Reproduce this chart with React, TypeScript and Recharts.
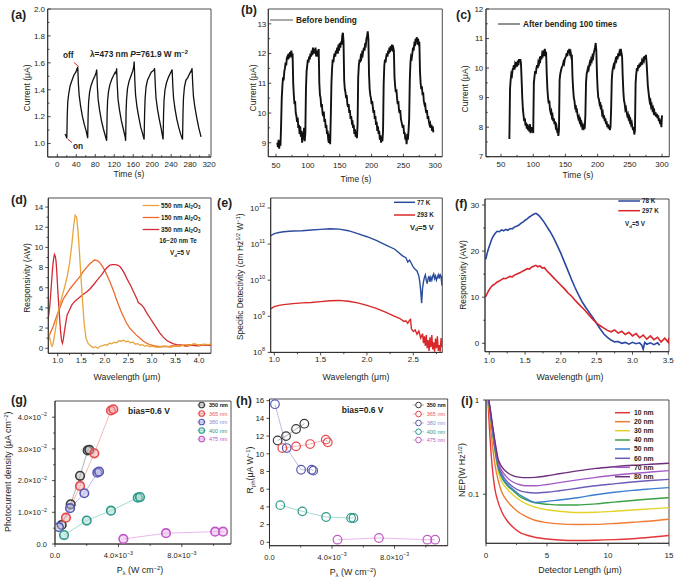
import React from 'react';
import { LineChart, Line, XAxis, YAxis, ReferenceArea } from 'recharts';

const FONT = '"Liberation Sans", Arial, Helvetica, sans-serif';
const INK = '#231f20';

/* ---------------- (a) ---------------- */
const timeA = [16,18,20,21,22,24,27,31,35,39,41,42,43,44.5,46,49,53,57,61,64,
  65,66,68,71,75,79,82,83,84.5,86,89,93,97,101,104,
  105,106,108,111,115,119,122,124,125,126.5,128,131,135,139,143,144,
  145,146,148,151,155,159,161,162,163.5,165,168,172,176,180,183,
  184,185,187,190,194,198,202,204,205,206.5,208,211,215,219,221,223,
  224,225,227,230,234,238,241,242,243.5,245,248,252,256,260,264,
  265,266,268,271,275,279,282,283,284,285.5,287,290,294,298,303];
const currentA = [1.07,1.06,1.04,1.22,1.31,1.37,1.43,1.47,1.51,1.53,1.55,1.54,1.57,1.44,1.36,1.28,1.2,1.14,1.09,1.04,
  1.22,1.31,1.38,1.43,1.47,1.5,1.53,1.55,1.42,1.33,1.25,1.17,1.11,1.06,1.02,
  1.22,1.32,1.39,1.44,1.48,1.51,1.53,1.52,1.56,1.43,1.33,1.25,1.17,1.11,1.05,1.02,
  1.24,1.33,1.41,1.46,1.5,1.54,1.57,1.61,1.46,1.36,1.27,1.19,1.12,1.07,1.03,
  1.22,1.33,1.42,1.47,1.5,1.53,1.54,1.55,1.56,1.44,1.34,1.26,1.18,1.11,1.07,1.03,
  1.22,1.32,1.4,1.45,1.49,1.52,1.54,1.55,1.43,1.34,1.26,1.18,1.12,1.07,1.03,
  1.23,1.34,1.42,1.47,1.49,1.52,1.54,1.53,1.56,1.44,1.35,1.27,1.19,1.12,1.05];
const aXTicks = [0, 40, 80, 120, 160, 200, 240, 280, 320];
const aXMinor = [20, 60, 100, 140, 180, 220, 260, 300];
const aYTicks = [1.0, 1.2, 1.4, 1.6, 1.8, 2.0];
const aYMinor = [1.1, 1.3, 1.5, 1.7, 1.9];

/* ---------------- (b) ---------------- */
const bStartTime = 52;
const currentB = [9.0,8.85,9.1,8.8,9.05,8.9,
  9.6,10.5,10.9,11.2,11.1,11.4,11.5,11.7,11.6,11.85,11.9,11.8,12.0,11.85,12.05,11.9,12.1,11.95,12.0,
  11.0,10.6,10.3,10.4,10.0,9.9,9.7,9.85,9.5,9.6,9.3,9.55,9.2,9.4,9.0,9.35,9.1,9.5,9.05,9.3,
  10.8,11.4,11.6,11.8,11.7,11.9,11.8,12.0,11.9,12.1,11.95,12.2,12.0,12.15,12.0,12.2,11.9,12.1,11.9,12.0,12.15,
  11.0,10.6,10.5,10.2,10.3,10.0,9.9,10.05,9.7,9.8,9.5,9.6,9.3,9.4,9.1,9.0,9.3,8.95,9.9,
  11.0,11.5,11.8,11.7,11.9,12.0,11.9,12.1,12.0,12.2,12.0,12.3,12.1,12.35,12.2,12.4,12.3,12.6,12.7,12.4,
  11.1,10.8,10.7,10.5,10.6,10.3,10.2,10.3,10.0,10.1,9.8,9.9,9.7,9.75,9.5,9.6,9.3,9.45,9.2,9.35,9.15,9.6,
  11.2,11.6,11.8,11.7,11.9,11.85,12.0,11.95,12.1,12.2,12.1,12.35,12.3,12.5,12.6,12.75,12.5,
  11.3,10.8,10.6,10.5,10.3,10.4,10.2,10.0,10.1,9.8,9.9,9.6,9.7,9.4,9.55,9.3,9.4,9.1,9.25,9.0,9.2,9.05,9.4,
  11.0,11.6,11.8,11.7,11.9,12.0,11.9,12.1,12.0,12.2,12.05,12.25,12.1,12.3,12.15,12.2,12.1,
  11.2,10.9,10.7,10.8,10.5,10.3,10.4,10.1,10.0,10.1,9.8,9.7,9.6,9.5,9.6,9.3,9.35,9.1,9.2,8.95,9.3,9.1,9.4,9.8,
  11.1,11.7,11.9,11.85,12.0,12.2,12.1,12.3,12.25,12.5,12.4,12.55,12.3,12.5,12.35,12.4,
  11.4,11.0,10.8,10.9,10.6,10.7,10.4,10.3,10.35,10.1,10.0,10.1,9.8,9.9,9.7,9.6,9.65,9.5,9.6,9.4,9.55,9.35];
const bXTicks = [50, 100, 150, 200, 250, 300];
const bXMinor = [75, 125, 175, 225, 275];
const bYTicks = [9, 10, 11, 12, 13];
const bYMinor = [9.5, 10.5, 11.5, 12.5];

/* ---------------- (c) ---------------- */
const cStartTime = 63;
const currentC = [7.6,9.3,9.6,9.8,9.75,9.95,10.0,10.1,9.95,10.15,10.1,10.2,10.05,10.25,10.1,10.3,10.2,10.3,10.15,
  9.6,9.0,8.6,8.4,8.2,8.3,8.05,8.15,7.95,8.1,7.9,8.05,7.85,8.1,7.8,8.0,7.85,7.95,7.8,
  9.5,9.7,9.9,9.8,10.0,10.1,10.0,10.2,10.15,10.3,10.25,10.4,10.3,10.5,10.45,10.6,10.4,10.65,10.5,10.55,
  9.8,9.3,9.0,8.8,8.9,8.6,8.5,8.55,8.35,8.4,8.2,8.3,8.1,8.2,8.0,8.05,7.9,7.95,7.7,7.9,
  9.6,9.8,9.9,10.0,10.05,10.1,10.2,10.15,10.3,10.35,10.4,10.5,10.4,10.6,10.5,10.65,10.5,10.55,10.4,10.45,
  9.7,9.3,9.0,8.9,8.7,8.75,8.5,8.55,8.4,8.3,8.35,8.2,8.25,8.1,8.15,8.0,8.05,7.9,8.0,7.95,8.4,
  9.5,9.8,9.9,10.0,9.95,10.1,10.2,10.15,10.3,10.25,10.4,10.35,10.5,10.6,10.7,10.85,10.6,
  9.8,9.3,9.0,8.95,8.8,8.85,8.6,8.65,8.45,8.5,8.3,8.4,8.2,8.3,8.1,8.2,8.0,8.1,7.95,8.05,7.9,8.0,8.6,
  9.6,9.9,10.0,10.1,10.05,10.2,10.3,10.25,10.4,10.3,10.5,10.4,10.55,10.5,10.65,10.5,10.4,
  9.7,9.2,8.9,8.8,8.6,8.65,8.5,8.4,8.45,8.3,8.35,8.2,8.25,8.1,8.15,8.0,7.9,8.0,7.75,7.9,
  9.5,9.8,10.0,9.9,10.1,10.0,10.15,10.05,10.2,10.1,10.25,10.2,10.3,10.25,10.4,10.3,10.45,10.2,
  9.8,9.4,9.2,9.0,8.85,8.9,8.7,8.75,8.6,8.65,8.5,8.55,8.4,8.5,8.35,8.45,8.3,8.4,8.2,8.3,8.1,8.25,8.0,8.4];
const cYTicks = [7, 8, 9, 10, 11, 12];
const cYMinor = [7.5, 8.5, 9.5, 10.5, 11.5];

/* ---------------- (d) ---------------- */
const d550X = [0.8,0.83,0.86,0.88,0.9,0.95,1.0,1.05,1.1,1.15,1.2,1.25,1.3,1.34,1.37,1.4,1.43,1.46,1.5,1.53,1.56,1.6,1.65,1.7,1.75,1.8,1.85,1.9,1.95,2.0,2.05,2.1,2.15,2.2,2.25,2.3,2.35,2.4,2.45,2.5,2.55,2.6,2.65,2.7,2.75,2.8,2.85,2.9,2.95,3.0,3.1,3.2,3.3,3.4,3.5,3.6,3.7,3.8,3.9,4.0,4.1,4.2,4.25];
const d550Y = [1.6,1.0,0.4,0.2,0.4,1.8,3.3,4.4,5.3,6.1,7.1,8.4,10.3,12.2,13.2,13.0,11.7,9.6,6.6,4.5,2.5,1.0,0.45,0.25,0.05,0.15,0.0,0.2,0.25,0.35,0.3,0.5,0.45,0.6,0.55,0.75,0.7,0.8,0.65,0.7,0.55,0.6,0.4,0.45,0.3,0.35,0.2,0.3,0.15,0.2,0.1,0.15,0.2,0.1,0.25,0.2,0.35,0.3,0.45,0.3,0.4,0.35,0.45];
const d150X = [0.8,0.85,0.9,0.95,1.0,1.06,1.12,1.19,1.26,1.33,1.4,1.47,1.54,1.61,1.69,1.74,1.78,1.82,1.86,1.9,1.94,1.99,2.04,2.1,2.15,2.2,2.25,2.3,2.36,2.41,2.46,2.53,2.6,2.67,2.75,2.82,2.89,2.96,3.03,3.1,3.17,3.25,3.35,3.45,3.55,3.65,3.75,3.85,3.95,4.05,4.15,4.25];
const d150Y = [1.0,1.6,2.1,2.8,3.5,4.2,4.9,5.4,5.9,6.3,6.7,7.1,7.6,8.0,8.4,8.6,8.75,8.72,8.65,8.45,8.2,7.8,7.3,6.7,6.1,5.5,4.8,4.2,3.5,3.0,2.5,2.0,1.65,1.3,1.0,0.7,0.5,0.35,0.25,0.2,0.15,0.2,0.15,0.25,0.2,0.3,0.2,0.3,0.25,0.35,0.3,0.35];
const d350X = [0.8,0.83,0.85,0.87,0.89,0.91,0.93,0.95,0.965,0.98,1.0,1.02,1.04,1.06,1.08,1.1,1.12,1.14,1.17,1.2,1.25,1.3,1.37,1.44,1.53,1.62,1.69,1.76,1.83,1.9,1.95,2.0,2.05,2.11,2.16,2.22,2.27,2.32,2.37,2.43,2.48,2.54,2.59,2.64,2.68,2.71,2.75,2.78,2.83,2.89,2.96,3.03,3.1,3.17,3.24,3.31,3.38,3.46,3.53,3.6,3.7,3.8,3.9,4.0,4.1,4.2,4.25];
const d350Y = [3.0,4.1,5.3,6.6,7.9,8.8,9.3,9.1,8.6,7.6,5.9,4.4,3.0,1.7,0.8,0.5,0.9,1.6,2.5,3.3,3.8,4.3,4.7,4.95,5.3,5.6,5.9,6.3,6.7,7.1,7.4,7.75,8.0,8.25,8.3,8.3,8.25,8.1,7.8,7.3,6.8,6.3,5.8,5.3,4.9,4.55,4.4,4.3,4.0,3.5,3.0,2.5,2.0,1.5,1.1,0.8,0.6,0.43,0.35,0.33,0.25,0.35,0.3,0.25,0.35,0.3,0.3];
const dXTicks = [1.0, 1.5, 2.0, 2.5, 3.0, 3.5, 4.0];
const dXMinor = [1.25, 1.75, 2.25, 2.75, 3.25, 3.75];
const dYTicks = [0, 2, 4, 6, 8, 10, 12, 14];
const dYMinor = [1, 3, 5, 7, 9, 11, 13];

/* ---------------- (e) ---------------- */
const eBlueX = [0.96,1.0,1.05,1.1,1.2,1.3,1.4,1.5,1.6,1.7,1.8,1.9,2.0,2.1,2.2,2.3,2.38,2.42,2.44,2.46,2.48,2.5,2.52,2.54,2.56,2.57,2.58,2.59,2.6,2.61,2.62,2.63,2.64,2.65,2.66,2.67,2.68,2.69,2.7,2.71,2.72,2.73,2.74,2.75,2.76,2.77,2.78,2.79,2.8,2.81,2.813];
const eBlueY = [1.7e11,1.95e11,2.1e11,2.2e11,2.3e11,2.35e11,2.45e11,2.55e11,2.65e11,2.6e11,2.35e11,1.95e11,1.6e11,1.27e11,9.5e10,7.2e10,4.8e10,4.2e10,3.2e10,3.6e10,2.9e10,2.3e10,2.0e10,1.8e10,1.3e10,9e9,5e9,2.3e9,6e9,9e9,1.2e10,1.4e10,1.0e10,8e9,1.1e10,1.3e10,9e9,1.2e10,1.0e10,1.3e10,1.5e10,1.1e10,1.3e10,1.0e10,1.2e10,1.4e10,1.1e10,1.5e10,1.2e10,7e9,1.3e10];
const eRedX = [0.96,1.0,1.05,1.1,1.2,1.3,1.4,1.5,1.6,1.7,1.8,1.9,2.0,2.1,2.2,2.3,2.35,2.4,2.42,2.44,2.46,2.47,2.48,2.5,2.52,2.54,2.56,2.58,2.6,2.61,2.62,2.63,2.64,2.65,2.66,2.67,2.68,2.69,2.7,2.71,2.72,2.73,2.74,2.75,2.76,2.77,2.78,2.79,2.8,2.81,2.813];
const eRedY = [1.6e9,1.85e9,2.0e9,2.1e9,2.25e9,2.35e9,2.4e9,2.55e9,2.7e9,2.75e9,2.6e9,2.35e9,2.0e9,1.65e9,1.3e9,1.0e9,8.8e8,7.2e8,7.5e8,6.4e8,7.8e8,8.2e8,4.5e8,3.8e8,4.2e8,3.2e8,3.9e8,2.5e8,3.3e8,1.8e8,2.8e8,1.5e8,3.0e8,1.3e8,2.2e8,1.1e8,2.6e8,1.4e8,3.0e8,1.2e8,1.9e8,1.05e8,2.4e8,1.3e8,2.8e8,1.1e8,1.6e8,1.05e8,2.5e8,1.4e8,2.2e8];
const eXTicks = [1.0, 1.5, 2.0, 2.5];
const eXMinor = [1.25, 1.75, 2.25, 2.75];
const eYTicks = [1e8, 1e9, 1e10, 1e11, 1e12];

/* ---------------- (f) ---------------- */
const fBlueX = [0.95,0.97,0.99,1.01,1.03,1.05,1.08,1.11,1.14,1.17,1.2,1.23,1.26,1.29,1.32,1.35,1.38,1.41,1.44,1.47,1.5,1.53,1.56,1.59,1.62,1.65,1.67,1.7,1.73,1.76,1.8,1.85,1.9,1.95,2.0,2.05,2.1,2.15,2.2,2.25,2.3,2.35,2.4,2.45,2.5,2.55,2.6,2.65,2.7,2.75,2.8,2.85,2.9,2.95,3.0,3.05,3.1,3.13,3.15,3.17,3.2,3.25,3.3,3.35,3.38];
const fBlueY = [18.2,19.5,20.6,21.5,22.4,23.1,23.8,24.3,24.2,24.6,24.4,24.7,24.5,24.9,24.8,25.2,25.4,25.6,26.0,26.3,26.7,27.0,27.4,27.7,28.0,28.2,28.0,27.6,27.0,26.4,25.4,24.2,22.8,21.2,19.5,17.6,15.7,13.8,12.0,10.4,8.9,7.7,6.6,5.5,4.3,3.1,2.0,1.3,0.7,0.3,0.4,0.0,0.2,-0.2,0.2,-0.1,0.1,-0.4,-1.3,0.2,-0.2,0.1,-0.3,0.1,-0.4];
const fRedX = [0.95,0.97,0.99,1.01,1.03,1.05,1.08,1.11,1.14,1.17,1.2,1.23,1.26,1.29,1.32,1.35,1.38,1.41,1.44,1.47,1.5,1.53,1.56,1.59,1.62,1.65,1.68,1.71,1.74,1.77,1.8,1.85,1.9,1.95,2.0,2.05,2.1,2.15,2.2,2.25,2.3,2.35,2.4,2.45,2.5,2.55,2.6,2.65,2.7,2.75,2.8,2.85,2.9,2.95,3.0,3.05,3.1,3.15,3.2,3.25,3.3,3.35,3.4,3.45,3.5,3.51];
const fRedY = [10.1,10.8,11.4,11.9,12.3,12.6,12.9,13.3,13.5,13.8,14.1,14.0,14.3,14.5,14.4,14.8,15.0,15.2,15.4,15.7,15.9,16.2,16.1,16.5,16.7,16.9,16.6,16.8,16.3,16.4,15.8,15.0,14.2,13.4,12.6,11.8,10.9,10.2,9.3,8.5,7.7,6.9,6.0,5.1,4.4,3.8,3.3,2.8,2.5,2.9,2.2,2.6,1.9,2.4,1.6,2.1,1.2,1.8,0.9,1.6,0.8,1.3,0.3,1.1,0.2,1.2];
const fXTicks = [1.0, 1.5, 2.0, 2.5, 3.0, 3.5];
const fXMinor = [1.25, 1.75, 2.25, 2.75, 3.25];
const fYTicks = [0, 10, 20, 30];
const fYMinor = [5, 15, 25];

/* ---------------- (g) ---------------- */
const gNames = ['350 nm', '365 nm', '380 nm', '400 nm', '475 nm'];
const g350X = [0.00042, 0.00099, 0.00158, 0.00206, 0.00217];
const g350Y = [0.0060, 0.0125, 0.0215, 0.0295, 0.0297];
const g365X = [0.00069, 0.00158, 0.00248, 0.00353, 0.00368];
const g365Y = [0.0083, 0.0183, 0.0286, 0.0421, 0.0425];
const g380X = [0.00025, 0.00095, 0.00185, 0.00267, 0.00278];
const g380Y = [0.0053, 0.0113, 0.0160, 0.0225, 0.0228];
const g400X = [0.00057, 0.0020, 0.00353, 0.00522, 0.00536];
const g400Y = [0.0028, 0.0074, 0.0105, 0.0146, 0.0148];
const g475X = [0.00431, 0.0070, 0.0101, 0.0106];
const g475Y = [0.0016, 0.0034, 0.0039, 0.0039];
const gXTicks = [0, 0.004, 0.008];
const gXMinor = [0.002, 0.006, 0.010];
const gXMant = ['0.0', '4.0', '8.0'];
const gXExp = [null, '−3', '−3'];
const gYTicks = [0, 0.01, 0.02, 0.03, 0.04];
const gYMinor = [0.005, 0.015, 0.025, 0.035];
const gYMant = ['0.0', '1.0', '2.0', '3.0', '4.0'];
const gYExp = [null, '−2', '−2', '−2', '−2'];

/* ---------------- (h) ---------------- */
const h350X = [0.00052, 0.00106, 0.0017, 0.00223];
const h350Y = [11.5, 12.0, 12.8, 13.4];
const h365X = [0.00082, 0.0017, 0.0026, 0.0036, 0.00373];
const h365Y = [10.65, 10.84, 11.1, 11.6, 11.3];
const h380X = [0.00035, 0.0011, 0.00202, 0.0027, 0.0028];
const h380Y = [15.6, 10.65, 8.2, 8.2, 8.1];
const h400X = [0.00069, 0.0021, 0.00362, 0.00522, 0.00537];
const h400Y = [4.2, 3.5, 2.86, 2.75, 2.75];
const h475X = [0.00435, 0.0070, 0.0101, 0.0106];
const h475Y = [0.3, 0.49, 0.3, 0.3];
const hYTicks = [0, 2, 4, 6, 8, 10, 12, 14, 16];

/* ---------------- (i) ---------------- */
const iNames = ['10 nm', '20 nm', '30 nm', '40 nm', '50 nm', '60 nm', '70 nm', '80 nm'];
const iLength = [0.15,0.25,0.35,0.5,0.7,1.0,1.3,1.7,2.2,2.7,3.3,4,5,6,7.5,9,10.5,12,13.5,15];
const i10 = [1.05,0.6,0.36,0.2,0.12,0.082,0.065,0.053,0.045,0.040,0.037,0.035,0.0335,0.0327,0.0323,0.0325,0.033,0.0338,0.035,0.0365];
const i20 = [1.1,0.8,0.55,0.36,0.22,0.14,0.105,0.086,0.073,0.064,0.058,0.053,0.050,0.0485,0.0478,0.048,0.049,0.0505,0.052,0.0543];
const i30 = [1.15,0.9,0.68,0.47,0.3,0.175,0.135,0.115,0.099,0.088,0.079,0.073,0.0685,0.066,0.064,0.0645,0.066,0.068,0.070,0.0722];
const i40 = [1.15,0.92,0.72,0.5,0.32,0.19,0.15,0.125,0.11,0.096,0.087,0.081,0.0785,0.077,0.077,0.079,0.0825,0.086,0.089,0.0922];
const i50 = [1.15,0.93,0.74,0.52,0.33,0.2,0.155,0.13,0.113,0.1,0.09,0.082,0.084,0.087,0.092,0.099,0.105,0.11,0.114,0.1178];
const i60 = [1.15,0.94,0.76,0.54,0.35,0.21,0.165,0.138,0.12,0.11,0.105,0.103,0.105,0.109,0.116,0.123,0.129,0.135,0.14,0.144];
const i70 = [1.15,0.95,0.78,0.56,0.37,0.22,0.178,0.152,0.135,0.127,0.123,0.123,0.127,0.133,0.142,0.151,0.159,0.166,0.172,0.178];
const i80 = [1.15,0.96,0.8,0.58,0.39,0.235,0.195,0.172,0.158,0.152,0.15,0.151,0.157,0.165,0.177,0.188,0.196,0.203,0.208,0.213];
const iXTicks = [0, 5, 10, 15];
const iXMinor = [2.5, 7.5, 12.5];
const iYTicks = [0.1, 1];

/* ---------------- styles ---------------- */
const gDot = ['#3a3a3a', '#e8474b', '#5a5ab4', '#2e9a8a', '#c159c6'];
const gFill = ['#b8b8b8', '#f4a9a9', '#b4b4e2', '#a6d8d0', '#e8b4ea'];
const gLine = ['#9a9a9a', '#f3a3a3', '#a9a9e0', '#8fcfc4', '#e3a5e6'];
const gText = ['#111111', '#ee5a5a', '#8d8dd6', '#2e9a8a', '#c159c6'];
const iColors = ['#e5343a', '#f07b32', '#e2d22a', '#3da043', '#3c7fd0', '#6a5cb8', '#a35cc4', '#6e2e7e'];

const axLine = { stroke: INK, strokeWidth: 0.8 };

function zip(xs: number[], ys: number[]) {
  const n = Math.min(xs.length, ys.length);
  const out: { x: number; y: number }[] = [];
  for (let i = 0; i < n; i++) out.push({ x: xs[i], y: ys[i] });
  return out;
}

function place(box: any, yw: number, xh: number, mt = 6, mr = 9) {
  return {
    left: box.L - yw,
    top: box.T - mt,
    width: box.R - box.L + yw + mr,
    height: box.B - box.T + mt + xh,
    margin: { top: mt, right: mr, left: 0, bottom: 0 },
  };
}

const near = (a: number, b: number) => Math.abs(a - b) <= Math.max(1e-12, Math.abs(b) * 1e-6);

/* custom tick: draws its own tick mark (major / minor, inside / outside) and the label */
function makeTick(cfg: {
  side: 'x' | 'y'; majors: number[]; inside?: boolean; len?: number; gap: number; fs?: number;
  fmt?: (v: number, i: number) => any;
}) {
  const len = cfg.len ?? 3;
  const fs = cfg.fs ?? 8;
  const dir = cfg.inside ? -1 : 1;
  return (props: any) => {
    const { x, y, payload } = props;
    const v = payload.value;
    const i = cfg.majors.findIndex((m) => near(v, m));
    const major = i >= 0;
    const l = major ? len : len * 0.6;
    const label = major ? (cfg.fmt ? cfg.fmt(v, i) : String(v)) : null;
    if (cfg.side === 'y') {
      return (
        <g>
          <line x1={x} y1={y} x2={x - dir * l} y2={y} stroke={INK} strokeWidth={0.8} />
          {major ? (
            <text x={x - cfg.gap} y={y} dy={fs * 0.35} textAnchor="end" fontSize={fs} fontFamily={FONT} fill={INK}>{label}</text>
          ) : null}
        </g>
      );
    }
    return (
      <g>
        <line x1={x} y1={y} x2={x} y2={y + dir * l} stroke={INK} strokeWidth={0.8} />
        {major ? (
          <text x={x} y={y + cfg.gap} dy={fs * 0.72} textAnchor="middle" fontSize={fs} fontFamily={FONT} fill={INK}>{label}</text>
        ) : null}
      </g>
    );
  };
}

const fix1 = (v: number) => v.toFixed(1);
const pow10 = (v: number) => [
  '10', <tspan key="e" dy={-4} fontSize={5.5}>{Math.round(Math.log10(v))}</tspan>,
];
const sci = (mants: string[], exps: (string | null)[]) => (_v: number, i: number) =>
  exps[i]
    ? [mants[i] + '×10', <tspan key="e" dy={-3.4} fontSize={5.3}>{exps[i]}</tspan>]
    : mants[i];

const axisCommon = { interval: 0 as const, allowDataOverflow: true, tickSize: 0, tickMargin: 0, tickLine: false, axisLine: axLine };

/* ---------------- panels ---------------- */
function PanelA() {
  const box = { L: 47.7, T: 9, R: 211, B: 157 };
  const p = place(box, 47.7, 22);
  const data = zip(timeA, currentA);
  const xd = [-20.3, 324];
  const yd = [0.9, 2.0];
  return (
    <div style={{ position: 'absolute', left: p.left, top: p.top }}>
      <LineChart width={p.width} height={p.height} margin={p.margin} data={data}>
        <XAxis {...axisCommon} type="number" dataKey="x" domain={xd} ticks={[...aXTicks, ...aXMinor]} height={22}
          tick={makeTick({ side: 'x', majors: aXTicks, inside: true, gap: 4 })} />
        <YAxis {...axisCommon} type="number" domain={yd} ticks={[...aYTicks, ...aYMinor]} width={47.7}
          tick={makeTick({ side: 'y', majors: aYTicks, inside: true, gap: 2.7, fmt: fix1 })} />
        <ReferenceArea x1={xd[0]} x2={xd[1]} y1={yd[0]} y2={yd[1]} fill="none" stroke={INK} strokeWidth={0.8} ifOverflow="visible" />
        <Line type="linear" dataKey="y" stroke="#111" strokeWidth={1.3} dot={false} isAnimationActive={false} />
      </LineChart>
    </div>
  );
}

function PanelB() {
  const box = { L: 268.3, T: 9, R: 442.3, B: 156.7 };
  const p = place(box, 43.3, 22);
  const data = currentB.map((v, i) => ({ x: bStartTime + i, y: v }));
  const xd = [37.9, 311];
  const yd = [8.53, 13.5];
  return (
    <div style={{ position: 'absolute', left: p.left, top: p.top }}>
      <LineChart width={p.width} height={p.height} margin={p.margin} data={data}>
        <XAxis {...axisCommon} type="number" dataKey="x" domain={xd} ticks={[...bXTicks, ...bXMinor]} height={22}
          tick={makeTick({ side: 'x', majors: bXTicks, inside: true, gap: 6 })} />
        <YAxis {...axisCommon} type="number" domain={yd} ticks={[...bYTicks, ...bYMinor]} width={43.3}
          tick={makeTick({ side: 'y', majors: bYTicks, inside: true, gap: 2 })} />
        <ReferenceArea x1={xd[0]} x2={xd[1]} y1={yd[0]} y2={yd[1]} fill="none" stroke={INK} strokeWidth={0.8} ifOverflow="visible" />
        <Line type="linear" dataKey="y" stroke="#111" strokeWidth={1.9} dot={false} isAnimationActive={false} />
      </LineChart>
    </div>
  );
}

function PanelC() {
  const box = { L: 486, T: 9, R: 669.3, B: 156.7 };
  const p = place(box, 36, 22, 6, 6);
  const data = currentC.map((v, i) => ({ x: cStartTime + i, y: v }));
  const xd = [26.7, 311.3];
  const yd = [7, 12];
  return (
    <div style={{ position: 'absolute', left: p.left, top: p.top }}>
      <LineChart width={p.width} height={p.height} margin={p.margin} data={data}>
        <XAxis {...axisCommon} type="number" dataKey="x" domain={xd} ticks={[...bXTicks, ...bXMinor]} height={22}
          tick={makeTick({ side: 'x', majors: bXTicks, inside: true, gap: 4.5 })} />
        <YAxis {...axisCommon} type="number" domain={yd} ticks={[...cYTicks, ...cYMinor]} width={36}
          tick={makeTick({ side: 'y', majors: cYTicks, inside: true, gap: 2.7 })} />
        <ReferenceArea x1={xd[0]} x2={xd[1]} y1={yd[0]} y2={yd[1]} fill="none" stroke={INK} strokeWidth={0.8} ifOverflow="visible" />
        <Line type="linear" dataKey="y" stroke="#111" strokeWidth={1.9} dot={false} isAnimationActive={false} />
      </LineChart>
    </div>
  );
}

function PanelD() {
  const box = { L: 48.3, T: 198, R: 211, B: 353.3 };
  const p = place(box, 48.3, 20);
  const xd = [0.8, 4.255];
  const yd = [-0.5, 14.9];
  return (
    <div style={{ position: 'absolute', left: p.left, top: p.top }}>
      <LineChart width={p.width} height={p.height} margin={p.margin}>
        <XAxis {...axisCommon} type="number" dataKey="x" domain={xd} ticks={[...dXTicks, ...dXMinor]} height={20}
          tick={makeTick({ side: 'x', majors: dXTicks, gap: 3.5, fmt: fix1 })} />
        <YAxis {...axisCommon} type="number" domain={yd} ticks={[...dYTicks, ...dYMinor]} width={48.3}
          tick={makeTick({ side: 'y', majors: dYTicks, gap: 5 })} />
        <ReferenceArea x1={xd[0]} x2={xd[1]} y1={yd[0]} y2={yd[1]} fill="none" stroke={INK} strokeWidth={0.8} ifOverflow="visible" />
        <Line data={zip(d150X, d150Y)} type="linear" dataKey="y" stroke="#ee6a2c" strokeWidth={1.3} dot={false} isAnimationActive={false} />
        <Line data={zip(d350X, d350Y)} type="linear" dataKey="y" stroke="#d42a33" strokeWidth={1.3} dot={false} isAnimationActive={false} />
        <Line data={zip(d550X, d550Y)} type="linear" dataKey="y" stroke="#e8a43a" strokeWidth={1.3} dot={false} isAnimationActive={false} />
      </LineChart>
    </div>
  );
}

function PanelE() {
  const box = { L: 270.7, T: 198.3, R: 442.3, B: 352.7 };
  const p = place(box, 45.7, 20);
  const xd = [0.961, 2.813];
  const yd = [1e8, 1.89e12];
  return (
    <div style={{ position: 'absolute', left: p.left, top: p.top }}>
      <LineChart width={p.width} height={p.height} margin={p.margin}>
        <XAxis {...axisCommon} type="number" dataKey="x" domain={xd} ticks={[...eXTicks, ...eXMinor]} height={20}
          tick={makeTick({ side: 'x', majors: eXTicks, gap: 3.5, fmt: fix1 })} />
        <YAxis {...axisCommon} type="number" scale="log" domain={yd} ticks={eYTicks} width={45.7}
          tick={makeTick({ side: 'y', majors: eYTicks, gap: 5.7, fmt: pow10 })} />
        <ReferenceArea x1={xd[0]} x2={xd[1]} y1={yd[0]} y2={yd[1]} fill="none" stroke={INK} strokeWidth={0.8} ifOverflow="visible" />
        <Line data={zip(eBlueX, eBlueY)} type="linear" dataKey="y" stroke="#2a4b9c" strokeWidth={1.4} dot={false} isAnimationActive={false} />
        <Line data={zip(eRedX, eRedY)} type="linear" dataKey="y" stroke="#d8282a" strokeWidth={1.4} dot={false} isAnimationActive={false} />
      </LineChart>
    </div>
  );
}

function PanelF() {
  const box = { L: 485, T: 199, R: 669, B: 351.7 };
  const p = place(box, 35, 20, 6, 6);
  const xd = [0.94, 3.51];
  const yd = [-1.82, 31.3];
  return (
    <div style={{ position: 'absolute', left: p.left, top: p.top }}>
      <LineChart width={p.width} height={p.height} margin={p.margin}>
        <XAxis {...axisCommon} type="number" dataKey="x" domain={xd} ticks={[...fXTicks, ...fXMinor]} height={20}
          tick={makeTick({ side: 'x', majors: fXTicks, gap: 5.3, fmt: fix1 })} />
        <YAxis {...axisCommon} type="number" domain={yd} ticks={[...fYTicks, ...fYMinor]} width={35}
          tick={makeTick({ side: 'y', majors: fYTicks, gap: 5.7 })} />
        <ReferenceArea x1={xd[0]} x2={xd[1]} y1={yd[0]} y2={yd[1]} fill="none" stroke={INK} strokeWidth={0.8} ifOverflow="visible" />
        <Line data={zip(fBlueX, fBlueY)} type="linear" dataKey="y" stroke="#2b46a0" strokeWidth={1.6} dot={false} isAnimationActive={false} />
        <Line data={zip(fRedX, fRedY)} type="linear" dataKey="y" stroke="#d9262a" strokeWidth={1.6} dot={false} isAnimationActive={false} />
      </LineChart>
    </div>
  );
}

function PanelG() {
  const box = { L: 55, T: 401, R: 231, B: 544 };
  const p = place(box, 55, 22);
  const xd = [0, 0.0111];
  const yd = [0, 0.0451];
  const series = [zip(g350X, g350Y), zip(g365X, g365Y), zip(g380X, g380Y), zip(g400X, g400Y), zip(g475X, g475Y)];
  return (
    <div style={{ position: 'absolute', left: p.left, top: p.top }}>
      <LineChart width={p.width} height={p.height} margin={p.margin}>
        <XAxis {...axisCommon} type="number" dataKey="x" domain={xd} ticks={[...gXTicks, ...gXMinor]} height={22}
          tick={makeTick({ side: 'x', majors: gXTicks, gap: 8.5, fs: 7.5, fmt: sci(gXMant, gXExp) })} />
        <YAxis {...axisCommon} type="number" domain={yd} ticks={[...gYTicks, ...gYMinor]} width={55}
          tick={makeTick({ side: 'y', majors: gYTicks, gap: 8, fs: 7.5, fmt: sci(gYMant, gYExp) })} />
        <ReferenceArea x1={xd[0]} x2={xd[1]} y1={yd[0]} y2={yd[1]} fill="none" stroke={INK} strokeWidth={0.8} ifOverflow="visible" />
        {series.map((s, k) => (
          <Line key={k} data={s} type="linear" dataKey="y" stroke={gLine[k]} strokeWidth={0.8}
            dot={{ r: 4.3, stroke: gDot[k], strokeWidth: 1.6, fill: gFill[k], fillOpacity: 0.5 }} isAnimationActive={false} />
        ))}
      </LineChart>
    </div>
  );
}

function PanelH() {
  const box = { L: 269.5, T: 399.3, R: 447.7, B: 546 };
  const p = place(box, 44.5, 22);
  const xd = [0, 0.0114];
  const yd = [-0.38, 16.19];
  const series = [zip(h350X, h350Y), zip(h365X, h365Y), zip(h380X, h380Y), zip(h400X, h400Y), zip(h475X, h475Y)];
  return (
    <div style={{ position: 'absolute', left: p.left, top: p.top }}>
      <LineChart width={p.width} height={p.height} margin={p.margin}>
        <XAxis {...axisCommon} type="number" dataKey="x" domain={xd} ticks={[...gXTicks, ...gXMinor]} height={22}
          tick={makeTick({ side: 'x', majors: gXTicks, gap: 8.5, fs: 7.5, fmt: sci(gXMant, gXExp) })} />
        <YAxis {...axisCommon} type="number" domain={yd} ticks={hYTicks} width={44.5}
          tick={makeTick({ side: 'y', majors: hYTicks, gap: 5.2 })} />
        <ReferenceArea x1={xd[0]} x2={xd[1]} y1={yd[0]} y2={yd[1]} fill="none" stroke={INK} strokeWidth={0.8} ifOverflow="visible" />
        {series.map((s, k) => (
          <Line key={k} data={s} type="linear" dataKey="y" stroke={gLine[k]} strokeWidth={0.8}
            dot={{ r: 4.3, stroke: gDot[k], strokeWidth: 1.2, fill: 'none' }} isAnimationActive={false} />
        ))}
      </LineChart>
    </div>
  );
}

function PanelI() {
  const box = { L: 486, T: 400, R: 669, B: 543.3 };
  const p = place(box, 36, 22, 6, 6);
  const xd = [0, 15];
  const yd = [0.0302, 1];
  const series = [i10, i20, i30, i40, i50, i60, i70, i80].map((ys) => zip(iLength, ys));
  return (
    <div style={{ position: 'absolute', left: p.left, top: p.top }}>
      <LineChart width={p.width} height={p.height} margin={p.margin}>
        <XAxis {...axisCommon} type="number" dataKey="x" domain={xd} ticks={[...iXTicks, ...iXMinor]} height={22}
          tick={makeTick({ side: 'x', majors: iXTicks, gap: 8.5 })} />
        <YAxis {...axisCommon} type="number" scale="log" domain={yd} ticks={iYTicks} width={36}
          tick={makeTick({ side: 'y', majors: iYTicks, gap: 6.7 })} />
        <ReferenceArea x1={xd[0]} x2={xd[1]} y1={yd[0]} y2={yd[1]} fill="none" stroke={INK} strokeWidth={0.8} ifOverflow="visible" />
        {series.map((s, k) => (
          <Line key={k} data={s} type="monotone" dataKey="y" stroke={iColors[k]} strokeWidth={1.4} dot={false} isAnimationActive={false} />
        ))}
      </LineChart>
    </div>
  );
}

/* ---------------- text overlay ---------------- */
function VText({ x, y, size = 9, children }: any) {
  return (
    <text transform={`translate(${x},${y}) rotate(-90)`} textAnchor="middle" fontSize={size}>{children}</text>
  );
}

function AlO({ size }: { size: number }) {
  const s = size * 0.7;
  const d = size * 0.25;
  return (
    <>
      Al<tspan dy={d} fontSize={s}>2</tspan><tspan dy={-d}>O</tspan><tspan dy={d} fontSize={s}>3</tspan>
    </>
  );
}

function Overlay() {
  const dLeg = [
    { c: '#e8a43a', n: '550' },
    { c: '#ee6a2c', n: '150' },
    { c: '#d42a33', n: '350' },
  ];
  const dLegY = [205.5, 217.5, 229.5];
  const gLegY = [405, 413.5, 422, 430.5, 439];
  const hLegY = [405, 414, 423, 431.7, 440];
  const iLegY = [412.7, 421.7, 430.7, 440, 449, 458.3, 467.3, 476.7];
  return (
    <svg width={677} height={579} style={{ position: 'absolute', left: 0, top: 0, pointerEvents: 'none' }}>
      <g fontFamily={FONT} fill={INK}>
        {/* panel letters */}
        <text x={11} y={18.5} fontSize={12.5} fontWeight="bold">(a)</text>
        <text x={241} y={14} fontSize={12.5} fontWeight="bold">(b)</text>
        <text x={456} y={18.5} fontSize={12.5} fontWeight="bold">(c)</text>
        <text x={11} y={204} fontSize={12.5} fontWeight="bold">(d)</text>
        <text x={217} y={207} fontSize={12.5} fontWeight="bold">(e)</text>
        <text x={455} y={208} fontSize={12.5} fontWeight="bold">(f)</text>
        <text x={11} y={404} fontSize={12.5} fontWeight="bold">(g)</text>
        <text x={236} y={405} fontSize={12.5} fontWeight="bold">(h)</text>
        <text x={461} y={405} fontSize={12.5} fontWeight="bold">(i)</text>

        {/* (a) */}
        <VText x={29.5} y={88} size={8.5}>Current (μA)</VText>
        <text x={129} y={177} fontSize={8.5} textAnchor="middle">Time (s)</text>
        <text x={90} y={56.5} fontSize={8.3} fontWeight="bold">
          λ=473 nm <tspan fontStyle="italic">P</tspan>=761.9 W m<tspan dy={-3} fontSize={5.8}>−2</tspan>
        </text>
        <text x={63} y={58} fontSize={8.3} fontWeight="bold">off</text>
        <text x={73} y={149} fontSize={8.3} fontWeight="bold">on</text>
        <line x1={74} y1={62.5} x2={78.5} y2={66.5} stroke="#e02020" strokeWidth={1} />
        <line x1={67.5} y1={139} x2={72} y2={142.5} stroke="#e02020" strokeWidth={1} />

        {/* (b) */}
        <VText x={256} y={88} size={8.5}>Current (μA)</VText>
        <text x={356} y={182} fontSize={8.5} textAnchor="middle">Time (s)</text>
        <line x1={270} y1={20} x2={293} y2={20} stroke="#555" strokeWidth={1} />
        <text x={296} y={23} fontSize={8.3} fontWeight="bold">Before bending</text>

        {/* (c) */}
        <VText x={468} y={89} size={8.5}>Current (μA)</VText>
        <text x={578} y={178} fontSize={8.5} textAnchor="middle">Time (s)</text>
        <line x1={498} y1={24} x2={520} y2={24} stroke="#222" strokeWidth={1} />
        <text x={523} y={27} fontSize={8.3} fontWeight="bold">After bending 100 times</text>

        {/* (d) */}
        <VText x={30} y={278} size={8.5}>Responsivity (AW)</VText>
        <text x={127} y={380} fontSize={8.8} textAnchor="middle">Wavelength  (μm)</text>
        {dLeg.map((d, k) => (
          <g key={k}>
            <line x1={142.7} y1={dLegY[k]} x2={159.3} y2={dLegY[k]} stroke={d.c} strokeWidth={1.3} />
            <text x={161} y={dLegY[k] + 2.3} fontSize={6.3} fontWeight="bold">{d.n} nm <AlO size={6.3} /></text>
          </g>
        ))}
        <text x={159.3} y={243} fontSize={6.3} fontWeight="bold">16−20 nm Te</text>
        <text x={170} y={255} fontSize={6.3} fontWeight="bold">V<tspan dy={1.6} fontSize={4.4}>d</tspan><tspan dy={-1.6}>=5 V</tspan></text>

        {/* (e) */}
        <VText x={243} y={276.7} size={8.4}>
          Specific Detectivity (cm Hz<tspan dy={-3} fontSize={5.7}>1/2</tspan><tspan dy={3}> W</tspan><tspan dy={-3} fontSize={5.7}>−1</tspan><tspan dy={3}>)</tspan>
        </VText>
        <text x={356} y={380} fontSize={8.8} textAnchor="middle">Wavelength  (μm)</text>
        <line x1={394} y1={202.3} x2={415} y2={202.3} stroke="#2a4b9c" strokeWidth={1.5} />
        <text x={417} y={204.6} fontSize={6.3} fontWeight="bold">77 K</text>
        <line x1={394} y1={215} x2={415} y2={215} stroke="#d8282a" strokeWidth={1.5} />
        <text x={417} y={217.3} fontSize={6.3} fontWeight="bold">293 K</text>
        <text x={410} y={229.5} fontSize={7.5} fontWeight="bold">V<tspan dy={1.8} fontSize={5}>d</tspan><tspan dy={-1.8}>=5 V</tspan></text>

        {/* (f) */}
        <VText x={466.3} y={275} size={8.5}>Responsivity (AW)</VText>
        <text x={570} y={380} fontSize={8.8} textAnchor="middle">Wavelength (μm)</text>
        <line x1={618.3} y1={201} x2={640} y2={201} stroke="#2b46a0" strokeWidth={1.5} />
        <text x={642} y={203.3} fontSize={6.3} fontWeight="bold">78 K</text>
        <line x1={618.3} y1={210.7} x2={640} y2={210.7} stroke="#d9262a" strokeWidth={1.5} />
        <text x={642} y={213} fontSize={6.3} fontWeight="bold">297 K</text>
        <text x={625} y={226} fontSize={6.3} fontWeight="bold">V<tspan dy={1.6} fontSize={4.4}>d</tspan><tspan dy={-1.6}>=5 V</tspan></text>

        {/* (g) */}
        <VText x={11} y={471.7} size={8.8}>
          Photocurrent density (μA cm<tspan dy={-3} fontSize={6}>−2</tspan><tspan dy={3}>)</tspan>
        </VText>
        <text x={140} y={573} fontSize={8.8} textAnchor="middle">
          P<tspan dy={2} fontSize={6}>λ</tspan><tspan dy={-2}> (W cm</tspan><tspan dy={-3} fontSize={6}>−2</tspan><tspan dy={3}>)</tspan>
        </text>
        <text x={128} y={413.5} fontSize={8.5} fontWeight="bold">bias=0.6 V</text>
        {gNames.map((n, k) => (
          <g key={k}>
            <line x1={197} y1={gLegY[k]} x2={206} y2={gLegY[k]} stroke={gLine[k]} strokeWidth={0.8} />
            <circle cx={201.7} cy={gLegY[k]} r={2.8} stroke={gDot[k]} strokeWidth={1.1} fill={gFill[k]} fillOpacity={0.5} />
            <text x={209} y={gLegY[k] + 2} fontSize={5.5} fontWeight={k === 0 ? 'bold' : 'normal'} fill={gText[k]}>{n}</text>
          </g>
        ))}

        {/* (h) */}
        <VText x={253} y={470} size={8.8}>
          R<tspan dy={2} fontSize={6}>ph</tspan><tspan dy={-2}>(μA W</tspan><tspan dy={-3} fontSize={6}>−1</tspan><tspan dy={3}>)</tspan>
        </VText>
        <text x={353} y={574.5} fontSize={8.8} textAnchor="middle">
          P<tspan dy={2} fontSize={6}>λ</tspan><tspan dy={-2}> (W cm</tspan><tspan dy={-3} fontSize={6}>−2</tspan><tspan dy={3}>)</tspan>
        </text>
        <text x={341.7} y={412.5} fontSize={8.5} fontWeight="bold">bias=0.6 V</text>
        {gNames.map((n, k) => (
          <g key={k}>
            <line x1={412.7} y1={hLegY[k]} x2={424} y2={hLegY[k]} stroke={gLine[k]} strokeWidth={0.8} />
            <circle cx={418.5} cy={hLegY[k]} r={2.8} stroke={gDot[k]} strokeWidth={1} fill="#fff" />
            <text x={426.7} y={hLegY[k] + 2} fontSize={5.5} fontWeight={k === 0 ? 'bold' : 'normal'} fill={gText[k]}>{n}</text>
          </g>
        ))}

        {/* (i) */}
        <VText x={465} y={470} size={8.8}>
          NEP(W Hz<tspan dy={-3} fontSize={6}>1/2</tspan><tspan dy={3}>)</tspan>
        </VText>
        <text x={580} y={573} fontSize={8.8} textAnchor="middle">Detector Length (μm)</text>
        {iNames.map((n, k) => (
          <g key={k}>
            <line x1={615} y1={iLegY[k]} x2={630} y2={iLegY[k]} stroke={iColors[k]} strokeWidth={1.5} />
            <text x={634} y={iLegY[k] + 2.4} fontSize={6.8} fontWeight="bold">{n}</text>
          </g>
        ))}
      </g>
    </svg>
  );
}

export default function App() {
  return (
    <div style={{ position: 'absolute', left: 0, top: 0, width: 677, height: 579, background: '#fff', overflow: 'hidden', fontFamily: FONT }}>
      <PanelA />
      <PanelB />
      <PanelC />
      <PanelD />
      <PanelE />
      <PanelF />
      <PanelG />
      <PanelH />
      <PanelI />
      <Overlay />
    </div>
  );
}
